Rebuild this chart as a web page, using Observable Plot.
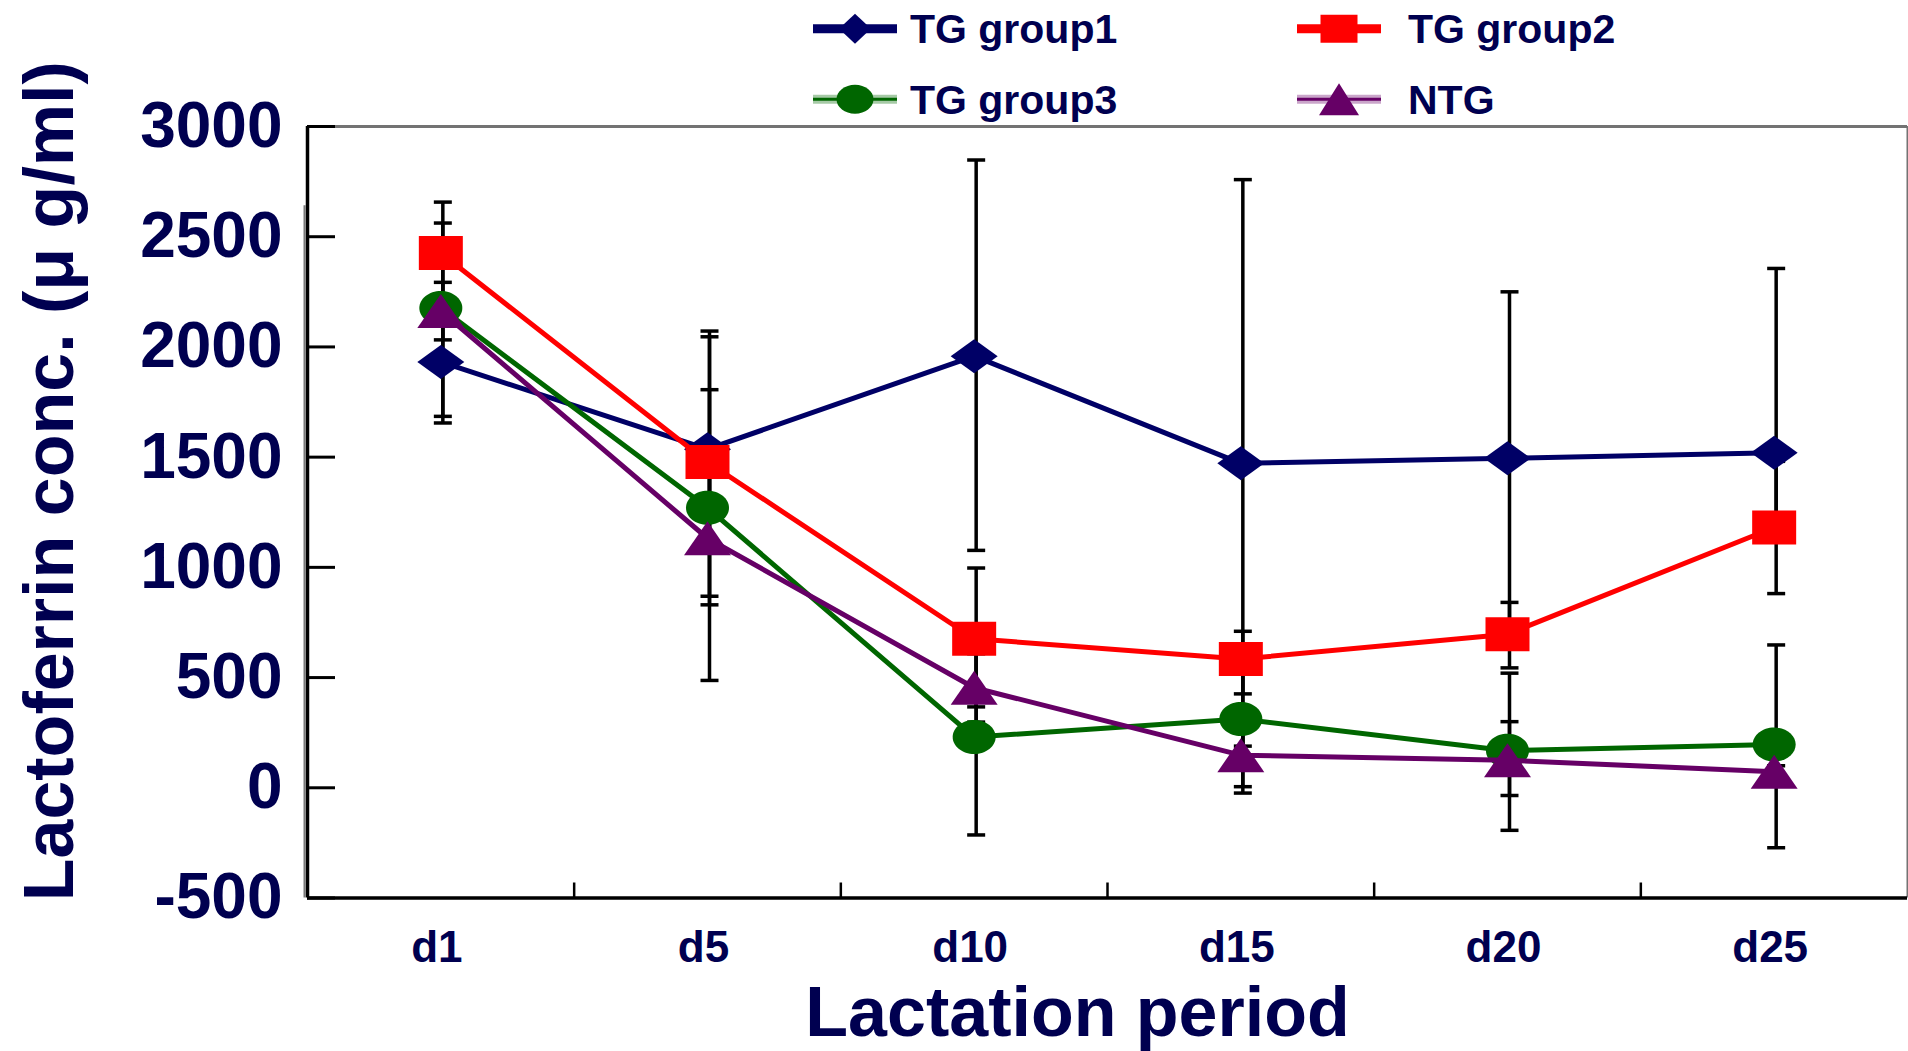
<!DOCTYPE html>
<html>
<head>
<meta charset="utf-8">
<script src="https://cdn.jsdelivr.net/npm/d3@7"></script>
<script src="https://cdn.jsdelivr.net/npm/@observablehq/plot@0.6"></script>
<style>
  html, body { margin: 0; padding: 0; background: #fff; }
  #wrap { position: relative; width: 1908px; height: 1051px; overflow: hidden; font-family: "Liberation Sans", Arial, sans-serif; }
  #legend { position: absolute; left: 0; top: 0; }
  #chart { position: absolute; left: 0; top: 0; }
</style>
</head>
<body>
<div id="wrap"><div id="chart"></div><div id="legend"></div></div>
<script>
// ---- data ----
const categories = ["d1", "d5", "d10", "d15", "d20", "d25"];
const seriesNames = ["TG group1", "TG group2", "TG group3", "NTG"];
const seriesColors = ["#000066", "#ff0000", "#006600", "#660066"];

const tgGroup1 = [1932, 1536, 1958, 1472, 1495, 1520];
const tgGroup2 = [2426, 1478, 676, 584, 697, 1181];
const tgGroup3 = [2177, 1270, 230, 312, 168, 196];
const ntg      = [2163, 1132, 454, 148, 125, 73];

// error-bar ends (low / high)
const tgGroup1Lo = [1655, 1274, 1077, 189, 742, 1180];
const tgGroup1Hi = [2209, 1806, 2848, 2759, 2250, 2356];
const tgGroup2Lo = [2191, 869, 367, 426, 544, 881];
const tgGroup2Hi = [2657, 2072, 997, 710, 841, 1481];
const tgGroup3Lo = [2032, 487, -214, 5, -193, 150];
const tgGroup3Hi = [2293, 2046, 678, 609, 520, 648];
const ntgLo      = [1685, 830, 298, -24, -35, -272];
const ntgHi      = [2562, 1434, 608, 322, 300, 100];

const yTicks = [-500, 0, 500, 1000, 1500, 2000, 2500, 3000];
const yTitle = "Lactoferrin conc. (\u03bc g/ml)";
const xTitle = "Lactation period";

// ---- build table ----
const values = [tgGroup1, tgGroup2, tgGroup3, ntg];
const los = [tgGroup1Lo, tgGroup2Lo, tgGroup3Lo, ntgLo];
const his = [tgGroup1Hi, tgGroup2Hi, tgGroup3Hi, ntgHi];
const rows = [];
seriesNames.forEach((s, si) => categories.forEach((c, i) => {
  rows.push({series: s, si, cat: c, x: i + 0.5, value: values[si][i], lo: los[si][i], hi: his[si][i]});
}));
const caps = rows.flatMap(d => [{x: d.x, y: d.lo}, {x: d.x, y: d.hi}]);

// ---- custom marker shapes (Excel-like, slightly wide) ----
function diamond(w, h) { return {draw(c) { c.moveTo(0, -h/2); c.lineTo(w/2, 0); c.lineTo(0, h/2); c.lineTo(-w/2, 0); c.closePath(); }}; }
function square(w, h) { return {draw(c) { c.moveTo(-w/2, -h/2); c.lineTo(w/2, -h/2); c.lineTo(w/2, h/2); c.lineTo(-w/2, h/2); c.closePath(); }}; }
function ellipse(w, h) { return {draw(c) {
  const a = w/2, b = h/2, k = 0.5523;
  c.moveTo(a, 0);
  c.bezierCurveTo(a, k*b, k*a, b, 0, b);
  c.bezierCurveTo(-k*a, b, -a, k*b, -a, 0);
  c.bezierCurveTo(-a, -k*b, -k*a, -b, 0, -b);
  c.bezierCurveTo(k*a, -b, a, -k*b, a, 0);
  c.closePath(); }}; }
function triangle(w, h) { return {draw(c) { c.moveTo(0, -h/2); c.lineTo(w/2, h/2); c.lineTo(-w/2, h/2); c.closePath(); }}; }
const capSym = {draw(c) { c.moveTo(-9, 0); c.lineTo(9, 0); }};

const plotSymbols = [diamond(47, 34), square(44, 34), ellipse(43, 34), triangle(47, 34)];

const W = 1908, H = 1051, ML = 307, MR = 1, MT = 126, MB = 153.5;
const plotW = W - ML - MR, plotH = H - MT - MB;
const navyText = "#000050";
const font = "Liberation Sans, Arial, sans-serif";

const marks = [
  // axis frame
  Plot.ruleX([0], {y1: 2640, y2: -500, dx: -3, stroke: "#7a7a7a", strokeWidth: 2}),
  Plot.ruleY([3000], {stroke: "#737373", strokeWidth: 3}),
  Plot.ruleX([6], {stroke: "#737373", strokeWidth: 2}),
  Plot.ruleX([0], {stroke: "black", strokeWidth: 3.5}),
  Plot.ruleY([-500], {stroke: "black", strokeWidth: 3.5}),
  Plot.tickY(yTicks, {stroke: "black", strokeWidth: 3, insetRight: plotW - 28}),
  Plot.tickX([1, 2, 3, 4, 5], {stroke: "black", strokeWidth: 2.5, insetTop: plotH - 15}),
  Plot.axisY({ticks: yTicks, tickSize: 0, tickPadding: 25, tickFormat: d => String(d), fontSize: 64, fontWeight: "bold", fill: navyText, label: null}),
  Plot.axisX({ticks: categories.map((c, i) => i + 0.5), tickSize: 0, tickPadding: 33, tickFormat: d => categories[Math.floor(d)], fontSize: 44, fontWeight: "bold", fill: navyText, label: null, dx: -4}),
  // error bars
  Plot.ruleX(rows, {x: "x", y1: "lo", y2: "hi", stroke: "black", strokeWidth: 3.5, dx: 2}),
  Plot.dot(caps, {x: "x", y: "y", symbol: capSym, stroke: "black", strokeWidth: 3.5, fill: "none", dx: 2})
];
seriesNames.forEach((s, si) => {
  const data = rows.filter(d => d.series === s);
  marks.push(Plot.line(data, {x: "x", y: "value", stroke: seriesColors[si], strokeWidth: 5}));
  marks.push(Plot.dot(data, {x: "x", y: "value", symbol: plotSymbols[si], fill: seriesColors[si], stroke: "none"}));
});
marks.push(Plot.text([yTitle], {frameAnchor: "left", textAnchor: "middle", rotate: -90, dx: -257, dy: -31, fontSize: 70, fontWeight: "bold", fill: navyText}));
marks.push(Plot.text([xTitle], {frameAnchor: "bottom", textAnchor: "middle", lineAnchor: "top", dx: -30, dy: 88, fontSize: 70, fontWeight: "bold", fill: navyText}));

const chart = Plot.plot({
  width: W, height: H,
  marginLeft: ML, marginRight: MR, marginTop: MT, marginBottom: MB,
  style: {fontFamily: font, background: "white", overflow: "visible"},
  x: {type: "linear", domain: [0, 6], axis: null},
  y: {type: "linear", domain: [-500, 3000], axis: null},
  marks
});
document.getElementById("chart").appendChild(chart);

// ---- legend ----
const legendItems = [
  {name: seriesNames[0], color: seriesColors[0], sym: diamond(32, 30), x: 813, y: 28.7, tx: 97, thick: true},
  {name: seriesNames[1], color: seriesColors[1], sym: square(37, 28), x: 1297, y: 28.7, tx: 111, thick: true},
  {name: seriesNames[2], color: seriesColors[2], sym: ellipse(37, 29), x: 813, y: 99.3, tx: 97, thick: false},
  {name: seriesNames[3], color: seriesColors[3], sym: triangle(40, 32), x: 1297, y: 99.3, tx: 111, thick: false}
];
const lsvg = d3.select("#legend").append("svg").attr("width", W).attr("height", 124)
  .style("font-family", font);
legendItems.forEach(it => {
  const g = lsvg.append("g").attr("transform", `translate(${it.x},${it.y})`);
  if (it.thick) {
    g.append("line").attr("x1", 0).attr("x2", 84).attr("stroke", it.color).attr("stroke-width", 9);
  } else {
    g.append("line").attr("x1", 0).attr("x2", 84).attr("stroke", it.color).attr("stroke-opacity", 0.35).attr("stroke-width", 9);
    g.append("line").attr("x1", 0).attr("x2", 84).attr("stroke", it.color).attr("stroke-width", 3);
  }
  const p = d3.path(); it.sym.draw(p);
  g.append("path").attr("d", p.toString()).attr("transform", "translate(42,0)").attr("fill", it.color);
  g.append("text").attr("x", it.tx).attr("y", 0).attr("dy", "0.36em").attr("font-size", 41).attr("font-weight", "bold")
    .attr("fill", navyText).text(it.name);
});
</script>
</body>
</html>
